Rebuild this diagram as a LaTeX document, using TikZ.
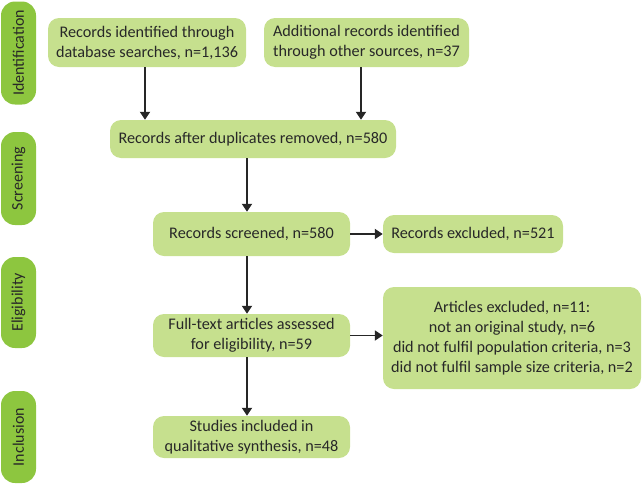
\documentclass[tikz,border=0pt]{standalone}
\usepackage{fontspec}
\setmainfont{Carlito}
\usetikzlibrary{arrows.meta}
\definecolor{bargreen}{RGB}{141,198,63}
\definecolor{boxgreen}{RGB}{198,224,142}
\definecolor{txt}{RGB}{40,40,40}
\begin{document}
\begin{tikzpicture}[x=1pt,y=-1pt,
  stagebar/.style={fill=bargreen, rounded corners=14pt, minimum width=35pt, inner sep=0pt, text=txt, font=\fontsize{16}{18}\selectfont},
  flowbox/.style={fill=boxgreen, rounded corners=11pt, inner sep=0pt, align=center, text=txt, font=\fontsize{16.2}{20}\selectfont},
  arr/.style={draw=black!85, line width=1.8pt, -{Triangle[length=8pt,width=10pt]}}]
\useasboundingbox (0,0) rectangle (642,485);
% stage bars
\node[stagebar, minimum height=103pt] (s1) at (18.5,53) {\rotatebox{90}{Identification}};
\node[stagebar, minimum height=93pt] (s2) at (18.5,178.5) {\rotatebox{90}{Screening}};
\node[stagebar, minimum height=91pt] (s3) at (18.5,302.5) {\rotatebox{90}{Eligibility}};
\node[stagebar, minimum height=92pt] (s4) at (18.5,437) {\rotatebox{90}{Inclusion}};
% flow boxes
\node[flowbox, minimum width=198pt, minimum height=49pt] (b1) at (147,42.5) {Records identified through\\database searches, n=1,136};
\node[flowbox, minimum width=205pt, minimum height=49pt] (b2) at (366.5,42.5) {Additional records identified\\through other sources, n=37};
\node[flowbox, minimum width=286pt, minimum height=38pt] (b3) at (253,139) {Records after duplicates removed, n=580};
\node[flowbox, minimum width=197pt, minimum height=44pt] (b4) at (251.5,234) {Records screened, n=580};
\node[flowbox, minimum width=180pt, minimum height=38pt] (b5) at (473,234) {Records excluded, n=521};
\node[flowbox, minimum width=197pt, minimum height=43pt] (b6) at (251.5,335.5) {Full-text articles assessed\\for eligibility, n=59};
\node[flowbox, minimum width=258pt, minimum height=102pt] (b7) at (512,338) {Articles excluded, n=11:\\not an original study, n=6\\did not fulfil population criteria, n=3\\did not fulfil sample size criteria, n=2};
\node[flowbox, minimum width=197pt, minimum height=42pt] (b8) at (251.5,437) {Studies included in\\qualitative synthesis, n=48};
% connectors
\draw[arr] ([xshift=-2pt]b1.south) -- ([xshift=-2pt]b1.south |- b3.north);
\draw[arr] ([xshift=-5.5pt]b2.south) -- ([xshift=-5.5pt]b2.south |- b3.north);
\draw[arr] ([xshift=-4.5pt]b4.north |- b3.south) -- ([xshift=-4.5pt]b4.north);
\draw[arr] (b4.east) -- (b5.west);
\draw[arr] ([xshift=-4.5pt]b4.south) -- ([xshift=-4.5pt]b6.north);
\draw[arr] (b6.east) -- (b6.east -| b7.west);
\draw[arr] ([xshift=-4.5pt]b6.south) -- ([xshift=-4.5pt]b8.north);
\end{tikzpicture}
\end{document}
